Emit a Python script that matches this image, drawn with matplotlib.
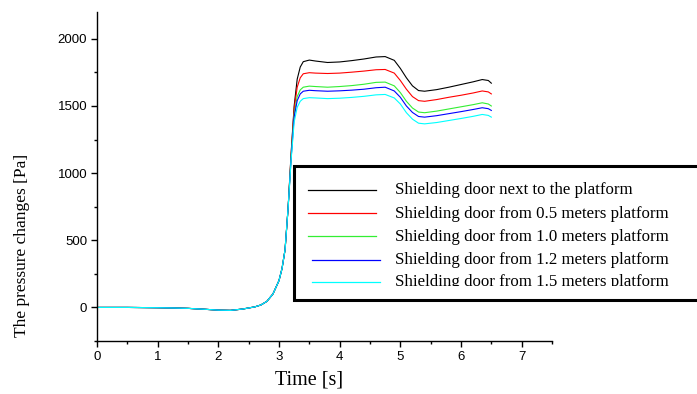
import numpy as np
import matplotlib.pyplot as plt
from matplotlib.patches import Rectangle
from matplotlib.lines import Line2D
from matplotlib.ticker import MultipleLocator

# time axis [s]
t = [0.0, 0.25, 0.5, 0.75, 1.0, 1.25, 1.5, 1.75, 2.0, 2.2, 2.4, 2.5, 2.6, 2.7, 2.8, 2.9,
     3.0, 3.05, 3.1, 3.15, 3.2, 3.25, 3.3, 3.35, 3.4, 3.5, 3.6, 3.8, 4.0, 4.2, 4.4, 4.6,
     4.75, 4.9, 5.0, 5.1, 5.2, 5.3, 5.4, 5.6, 5.8, 6.0, 6.2, 6.35, 6.45, 6.5]

# common pressure history before the shock arrives (t <= 3.15)
p_start = [0, 0, 0, -1, -2, -4, -7, -13, -20, -22, -12, -4, 4, 18, 45, 100,
           200, 290, 430, 740]

p_next = p_start + [1150, 1500, 1700, 1790, 1830, 1842, 1835, 1824, 1828, 1838, 1850, 1865,
                    1868, 1840, 1780, 1710, 1650, 1615, 1610, 1622, 1640, 1660, 1680, 1697, 1690, 1670]
p_05 = p_start + [1140, 1480, 1640, 1710, 1740, 1748, 1745, 1742, 1745, 1752, 1760, 1770,
                  1772, 1745, 1690, 1625, 1570, 1540, 1535, 1548, 1565, 1580, 1597, 1612, 1605, 1590]
p_10 = p_start + [1120, 1440, 1570, 1620, 1640, 1648, 1645, 1640, 1645, 1652, 1662, 1676,
                  1678, 1650, 1600, 1535, 1485, 1455, 1450, 1462, 1478, 1494, 1510, 1524, 1515, 1500]
p_12 = p_start + [1110, 1420, 1540, 1590, 1610, 1617, 1614, 1610, 1613, 1618, 1625, 1636,
                  1640, 1612, 1565, 1500, 1452, 1422, 1417, 1428, 1443, 1458, 1474, 1487, 1480, 1467]
p_15 = p_start + [1100, 1380, 1490, 1535, 1555, 1562, 1560, 1555, 1558, 1564, 1572, 1583,
                  1586, 1560, 1515, 1450, 1402, 1372, 1367, 1377, 1392, 1407, 1423, 1437, 1430, 1417]

series = [p_next, p_05, p_10, p_12, p_15]
labels = ["Shielding door next to the platform",
          "Shielding door from 0.5 meters platform",
          "Shielding door from 1.0 meters platform",
          "Shielding door from 1.2 meters platform",
          "Shielding door from 1.5 meters platform"]
colors = ["black", "#ff0000", "#33ee33", "#0000ff", "#00ffff"]

W, H = 697, 394
fig = plt.figure(figsize=(W / 100, H / 100), dpi=100)
ax = fig.add_axes([97 / W, 1 - 341 / H, (552 - 97) / W, (341 - 12) / H])

for p, c in zip(series, colors):
    ax.plot(t, p, color=c, lw=0.8)

ax.set_xlim(0, 7.5)
ax.set_ylim(-250, 2200)
ax.xaxis.set_major_locator(MultipleLocator(1))
ax.xaxis.set_minor_locator(MultipleLocator(0.5))
ax.yaxis.set_major_locator(MultipleLocator(500))
ax.yaxis.set_minor_locator(MultipleLocator(250))
for s in ["top", "right"]:
    ax.spines[s].set_visible(False)
for s in ["left", "bottom"]:
    ax.spines[s].set_linewidth(1.0)
ax.tick_params(which="major", direction="out", length=4, width=1,
               labelsize=9.5, pad=3)
ax.tick_params(which="minor", direction="out", length=2.5, width=1)
for lab in ax.get_xticklabels() + ax.get_yticklabels():
    lab.set_family("Liberation Sans")

serif = "Liberation Serif"
fig.text(22 / W, 1 - 245 / H, "The pressure changes [Pa]", rotation=90,
         ha="center", va="center", family=serif, fontsize=12.5)
fig.text(309 / W, 1 - 380 / H, "Time [s]", ha="center", va="center",
         family=serif, fontsize=14.5)

# hand-built legend box that runs off the right edge
frame = Rectangle((294 / W, 1 - 300 / H), (720 - 294) / W, (300 - 166) / H,
                  transform=fig.transFigure, fill=True, facecolor="white",
                  edgecolor="black", lw=2.2, zorder=5)
fig.patches.append(frame)
clip = Rectangle((294 / W, 1 - 285.5 / H), (720 - 294) / W, (285.5 - 166) / H,
                 transform=fig.transFigure, visible=False)
fig.patches.append(clip)

rows_y = [189.5, 213, 236, 260, 282]
line_x = [(308, 376), (308, 376), (308, 376), (312, 380), (312, 380)]
for lab, c, y, (x0, x1) in zip(labels, colors, rows_y, line_x):
    ln = Line2D([x0 / W, x1 / W], [1 - y / H, 1 - y / H], color=c, lw=0.9,
                transform=fig.transFigure, zorder=6)
    fig.lines.append(ln)
    tx = fig.text(395 / W, 1 - (y + 0.5) / H, lab, ha="left", va="center",
                  family=serif, fontsize=12.2, zorder=6)
    tx.set_clip_path(clip)

fig.savefig("out.png", dpi=100)
